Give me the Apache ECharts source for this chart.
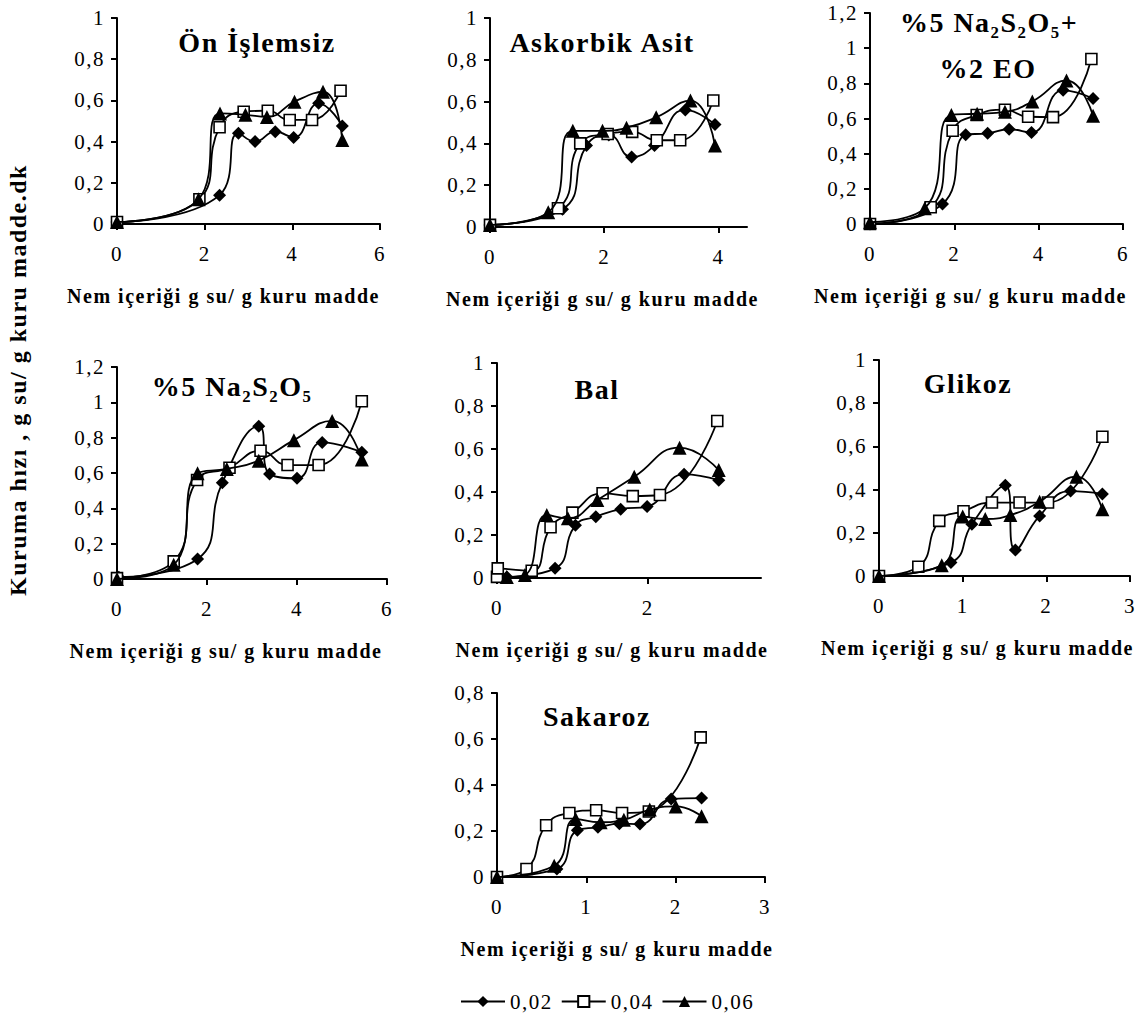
<!DOCTYPE html>
<html>
<head>
<meta charset="utf-8">
<script src="https://cdn.jsdelivr.net/npm/echarts@6/dist/echarts.min.js"></script>
<style>
html, body { margin: 0; padding: 0; background: #fff; }
#main { width: 1145px; height: 1014px; }
/* the scanned figure has spaced-out lettering everywhere */
#main text { letter-spacing: 1.5px; }
</style>
</head>
<body>
<div id="main"></div>
<script>
// x: nem içeriği (g su / g kuru madde), y: kuruma hızı
var seriesNames = ['0,02', '0,04', '0,06'];

// Ön İşlemsiz
var on002 = [[0, 0.01], [2.34, 0.14], [2.77, 0.44], [3.15, 0.40], [3.61, 0.448], [4.03, 0.42], [4.6, 0.586], [5.14, 0.476]];
var on004 = [[0, 0.01], [1.88, 0.12], [2.34, 0.47], [2.89, 0.545], [3.44, 0.55], [3.94, 0.505], [4.45, 0.505], [5.10, 0.647]];
var on006 = [[0, 0.01], [1.86, 0.12], [2.35, 0.537], [2.93, 0.53], [3.42, 0.52], [4.05, 0.594], [4.70, 0.642], [5.14, 0.408]];
// Askorbik Asit
var ask002 = [[0, 0.01], [1.27, 0.085], [1.69, 0.39], [2.08, 0.44], [2.48, 0.335], [2.88, 0.39], [3.42, 0.56], [3.94, 0.49]];
var ask004 = [[0, 0.01], [1.19, 0.09], [1.58, 0.40], [2.06, 0.445], [2.49, 0.455], [2.92, 0.415], [3.33, 0.415], [3.91, 0.605]];
var ask006 = [[0, 0.01], [1.02, 0.07], [1.45, 0.46], [1.97, 0.46], [2.39, 0.475], [2.91, 0.525], [3.51, 0.605], [3.94, 0.39]];
// %5 Na2S2O5 + %2 EO
var eo002 = [[0, 0.0], [1.72, 0.114], [2.27, 0.507], [2.79, 0.516], [3.30, 0.539], [3.83, 0.52], [4.58, 0.76], [5.29, 0.714]];
var eo004 = [[0, 0.0], [1.44, 0.095], [1.96, 0.53], [2.53, 0.62], [3.20, 0.65], [3.75, 0.61], [4.34, 0.608], [5.25, 0.938]];
var eo006 = [[0, 0.01], [1.30, 0.09], [1.93, 0.62], [2.54, 0.627], [3.20, 0.638], [3.85, 0.697], [4.66, 0.816], [5.29, 0.615]];
// %5 Na2S2O5
var na002 = [[0.04, 0.01], [1.79, 0.113], [2.34, 0.545], [3.15, 0.865], [3.39, 0.594], [4.0, 0.57], [4.56, 0.773], [5.44, 0.717]];
var na004 = [[0, 0.005], [1.26, 0.10], [1.78, 0.56], [2.50, 0.63], [3.19, 0.726], [3.79, 0.645], [4.48, 0.645], [5.44, 1.006]];
var na006 = [[0, 0.0], [1.26, 0.08], [1.79, 0.598], [2.44, 0.623], [3.15, 0.67], [3.93, 0.786], [4.78, 0.895], [5.44, 0.677]];
// Bal
var bal002 = [[0.13, 0.005], [0.77, 0.045], [1.04, 0.245], [1.31, 0.285], [1.64, 0.32], [1.99, 0.332], [2.48, 0.482], [2.94, 0.455]];
var bal004 = [[0, 0.005], [0.01, 0.045], [0.46, 0.034], [0.71, 0.236], [1.0, 0.304], [1.40, 0.394], [1.80, 0.381], [2.16, 0.386], [2.92, 0.73]];
var bal006 = [[0.13, 0.005], [0.37, 0.014], [0.66, 0.293], [0.94, 0.278], [1.33, 0.363], [1.82, 0.471], [2.42, 0.606], [2.94, 0.502]];
// Glikoz
var gl002 = [[0, 0], [0.86, 0.062], [1.11, 0.24], [1.51, 0.42], [1.63, 0.12], [1.92, 0.278], [2.29, 0.393], [2.67, 0.38]];
var gl004 = [[0, 0], [0.47, 0.043], [0.72, 0.255], [1.01, 0.30], [1.35, 0.34], [1.68, 0.34], [2.02, 0.34], [2.67, 0.645]];
var gl006 = [[0, 0], [0.75, 0.05], [1.0, 0.275], [1.27, 0.264], [1.57, 0.282], [1.92, 0.344], [2.36, 0.46], [2.67, 0.309]];
// Sakaroz
var sk002 = [[0, 0], [0.67, 0.035], [0.90, 0.203], [1.13, 0.216], [1.37, 0.232], [1.60, 0.23], [1.95, 0.339], [2.29, 0.343]];
var sk004 = [[0, 0], [0.33, 0.035], [0.55, 0.225], [0.81, 0.278], [1.11, 0.29], [1.40, 0.278], [1.70, 0.285], [2.28, 0.607]];
var sk006 = [[0, 0], [0.64, 0.049], [0.88, 0.252], [1.16, 0.238], [1.42, 0.249], [1.71, 0.293], [2.0, 0.307], [2.29, 0.264]];

// tick labels
var xTicks6 = [0, 2, 4, 6];
var xTicks4 = [0, 2, 4];
var xTicks2 = [0, 2];
var xTicks3 = [0, 1, 2, 3];
var yTicks10 = [0, 0.2, 0.4, 0.6, 0.8, 1];
var yTicks12 = [0, 0.2, 0.4, 0.6, 0.8, 1, 1.2];
var yTicks08 = [0, 0.2, 0.4, 0.6, 0.8];

var X_NAME = 'Nem içeriği g su/ g kuru madde';
var Y_NAME = 'Kuruma hızı , g su/ g kuru madde.dk';
var FONT = '"Liberation Serif", "Times New Roman", serif';

var panels = [
	{ titles: [['Ön İşlemsiz', 257, 42]], box: [117, 18, 263, 206], xMax: 6, yMax: 1, xTicks: xTicks6, yTicks: yTicks10, shift: 25, data: [on002, on004, on006] },
	{ titles: [['Askorbik Asit', 602, 42]], box: [490, 18, 257, 209], xMax: 4.5, yMax: 1, xTicks: xTicks4, yTicks: yTicks10, shift: 16, data: [ask002, ask004, ask006] },
	{ titles: [['%5 Na₂S₂O₅+', 989, 22], ['%2 EO', 988, 68]], box: [870, 13, 253, 211], xMax: 6, yMax: 1.2, xTicks: xTicks6, yTicks: yTicks12, shift: 26, data: [eo002, eo004, eo006] },
	{ titles: [['%5 Na₂S₂O₅', 232, 386]], box: [117, 367, 270, 212], xMax: 6, yMax: 1.2, xTicks: xTicks6, yTicks: yTicks12, shift: 26, data: [na002, na004, na006] },
	{ titles: [['Bal', 597, 389]], box: [497, 363, 264, 215], xMax: 3.5, yMax: 1, xTicks: xTicks2, yTicks: yTicks10, shift: 17, data: [bal002, bal004, bal006] },
	{ titles: [['Glikoz', 968, 383]], box: [879, 360, 251, 216], xMax: 3, yMax: 1, xTicks: xTicks3, yTicks: yTicks10, shift: 27, data: [gl002, gl004, gl006] },
	{ titles: [['Sakaroz', 597, 716]], box: [497, 693, 268, 184], xMax: 3, yMax: 0.8, xTicks: xTicks3, yTicks: yTicks08, shift: 14, data: [sk002, sk004, sk006] }
];

var symbols = ['diamond', 'rect', 'triangle'];
var symbolSizes = [13, 11, 14];

function comma(v) { return String(v).replace('.', ','); }

var grids = [], xAxes = [], yAxes = [], series = [], texts = [];

panels.forEach(function(p, i) {
	grids.push({ left: p.box[0], top: p.box[1], width: p.box[2], height: p.box[3], outerBoundsMode: 'none' });
	xAxes.push({
		type: 'value', gridIndex: i, min: 0, max: p.xMax,
		name: X_NAME, nameLocation: 'middle', nameGap: 62, nameMoveOverlap: false,
		nameTextStyle: { fontFamily: FONT, fontSize: 20, fontWeight: 'bold', color: '#000', padding: [0, p.shift * 2, 0, 0] },
		axisLine: { show: true, onZero: false, lineStyle: { color: '#000', width: 2 } },
		axisTick: { show: true, length: 6, customValues: p.xTicks, lineStyle: { color: '#000', width: 2 } },
		axisLabel: { customValues: p.xTicks, margin: 19, fontFamily: FONT, fontSize: 21, color: '#000', formatter: comma },
		splitLine: { show: false }
	});
	yAxes.push({
		type: 'value', gridIndex: i, min: 0, max: p.yMax,
		axisLine: { show: true, onZero: false, lineStyle: { color: '#000', width: 2 } },
		axisTick: { show: true, length: 6, customValues: p.yTicks, lineStyle: { color: '#000', width: 2 } },
		axisLabel: { customValues: p.yTicks, margin: 12, fontFamily: FONT, fontSize: 21, color: '#000', formatter: comma },
		splitLine: { show: false }
	});
	p.data.forEach(function(d, k) {
		series.push({
			name: seriesNames[k],
			type: 'line',
			xAxisIndex: i,
			yAxisIndex: i,
			data: d,
			smooth: 0.5,
			clip: false,
			symbol: symbols[k],
			symbolSize: symbolSizes[k],
			lineStyle: { color: '#000', width: 1.8 },
			itemStyle: k === 1 ? { color: '#fff', borderColor: '#000', borderWidth: 1.6 } : { color: '#000' },
			z: 2 + k
		});
	});
	p.titles.forEach(function(t) {
		texts.push({
			type: 'text', x: t[1], y: t[2],
			style: { text: t[0], font: 'bold 28px ' + FONT, fill: '#000', align: 'center', verticalAlign: 'middle' }
		});
	});
});

texts.push({
	type: 'text', x: 18, y: 380, rotation: Math.PI / 2,
	style: { text: Y_NAME, font: 'bold 24px ' + FONT, fill: '#000', align: 'center', verticalAlign: 'middle' }
});

var chart = echarts.init(document.getElementById('main'), null, { renderer: 'svg' });
chart.setOption({
	animation: false,
	backgroundColor: '#fff',
	legend: {
		data: seriesNames,
		left: 455,
		top: 986,
		itemWidth: 44,
		itemHeight: 14,
		itemGap: 14,
		textStyle: { fontFamily: FONT, fontSize: 21, color: '#000' }
	},
	grid: grids,
	xAxis: xAxes,
	yAxis: yAxes,
	series: series,
	graphic: texts
});
</script>
</body>
</html>
